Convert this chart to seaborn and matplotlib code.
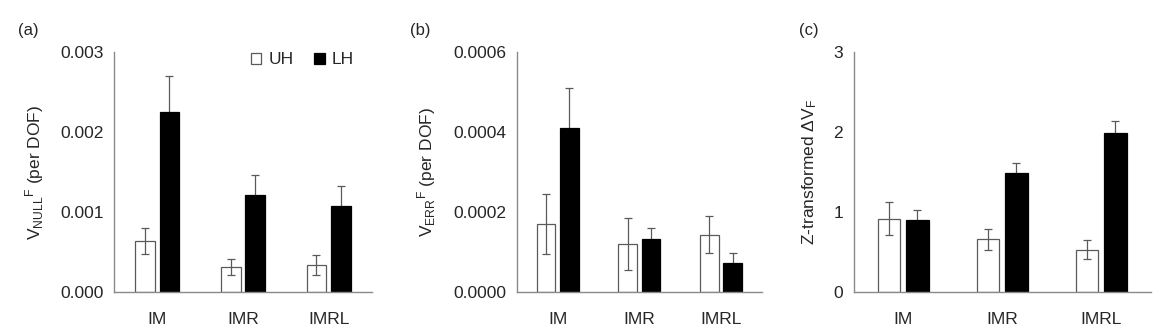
import matplotlib
matplotlib.use("Agg")
import matplotlib.pyplot as plt
from matplotlib.patches import Patch
import numpy as np
import pandas as pd
import seaborn as sns

# Conditions and hand groups
conditions = ["IM", "IMR", "IMRL"]
hands = ["UH", "LH"]

# (a) V_NULL^F per DOF: means and errors
null_uh = [0.00064, 0.00032, 0.00034]
null_lh = [0.00225, 0.00121, 0.00108]
null_uh_err = [0.00016, 0.00010, 0.00012]
null_lh_err = [0.00045, 0.00025, 0.00025]

# (b) V_ERR^F per DOF: means and errors
err_uh = [0.000171, 0.000120, 0.000143]
err_lh = [0.000409, 0.000134, 0.000073]
err_uh_err = [0.000075, 0.000065, 0.000046]
err_lh_err = [0.000100, 0.000027, 0.000025]

# (c) Z-transformed delta V_F: means and errors
z_uh = [0.92, 0.66, 0.53]
z_lh = [0.90, 1.49, 1.98]
z_uh_err = [0.20, 0.13, 0.12]
z_lh_err = [0.12, 0.12, 0.15]

# y-axis ticks per panel
null_ticks = [0.000, 0.001, 0.002, 0.003]
null_ticklabels = ["0.000", "0.001", "0.002", "0.003"]
err_ticks = [0.0, 0.0002, 0.0004, 0.0006]
err_ticklabels = ["0.0000", "0.0002", "0.0004", "0.0006"]
z_ticks = [0, 1, 2, 3]
z_ticklabels = ["0", "1", "2", "3"]

sns.set_style("white")
plt.rcParams["font.family"] = ["Liberation Sans", "DejaVu Sans"]
plt.rcParams["mathtext.default"] = "regular"

GRAY = "#5a5a5a"
SPINE = "#8a8a8a"
FILL = {"UH": "white", "LH": "black"}


def make_frame(uh, lh, uh_e, lh_e):
    rows = []
    for h, vals, errs in (("UH", uh, uh_e), ("LH", lh, lh_e)):
        for c, v, e in zip(conditions, vals, errs):
            rows.append({"condition": c, "hand": h, "value": v, "err": e})
    return pd.DataFrame(rows)


def draw_panel(ax, df, ticks, ticklabels, ylabel, label_x, panel_tag):
    sns.barplot(data=df, x="condition", y="value", hue="hand",
                order=conditions, hue_order=hands, palette=FILL,
                width=0.575, gap=0.2, errorbar=None, legend=False,
                edgecolor=GRAY, linewidth=0.9, ax=ax)
    for container, h in zip(ax.containers, hands):
        sub = df[df["hand"] == h].set_index("condition")
        for bar in container:
            xc = bar.get_x() + bar.get_width() / 2
            cond = conditions[int(round(xc))]
            v, e = sub.loc[cond, "value"], sub.loc[cond, "err"]
            ax.errorbar(xc, v, yerr=e, fmt="none", ecolor=GRAY,
                        elinewidth=0.9, capsize=2.6, capthick=0.9,
                        zorder=3 if h == "UH" else 0.5)
        if h == "LH":
            for bar in container:
                bar.set_edgecolor("black")
    ax.set_xlim(-0.5, 2.5)
    ax.set_ylim(ticks[0], ticks[-1])
    ax.set_yticks(ticks)
    ax.set_yticklabels(ticklabels)
    ax.set_xlabel("")
    ax.set_ylabel(ylabel, fontsize=12.5)
    ax.yaxis.set_label_coords(label_x, 0.5)
    ax.yaxis.label.set_va("center")
    ax.tick_params(axis="y", length=0, pad=7.5, labelsize=12.5)
    ax.tick_params(axis="x", length=0, pad=14, labelsize=12.5)
    for side in ("top", "right"):
        ax.spines[side].set_visible(False)
    for side in ("left", "bottom"):
        ax.spines[side].set_color(SPINE)
        ax.spines[side].set_linewidth(1.0)
    ax.set_facecolor("white")
    ax.text(panel_tag[1], 0.908, panel_tag[0], transform=ax.figure.transFigure,
            fontsize=12, ha="left", va="center")


fig = plt.figure(figsize=(11.67, 3.35), dpi=100)
fig.patch.set_facecolor("white")
ax_a = fig.add_axes([0.0979, 0.1275, 0.2206, 0.7182])
ax_b = fig.add_axes([0.4430, 0.1275, 0.2097, 0.7182])
ax_c = fig.add_axes([0.7315, 0.1275, 0.2545, 0.7182])

draw_panel(ax_a, make_frame(null_uh, null_lh, null_uh_err, null_lh_err),
           null_ticks, null_ticklabels,
           r"V$_{NULL}{}^{F}$ (per DOF)", -0.308, ("(a)", 0.015))
draw_panel(ax_b, make_frame(err_uh, err_lh, err_uh_err, err_lh_err),
           err_ticks, err_ticklabels,
           r"V$_{ERR}{}^{F}$ (per DOF)", -0.369, ("(b)", 0.351))
draw_panel(ax_c, make_frame(z_uh, z_lh, z_uh_err, z_lh_err),
           z_ticks, z_ticklabels,
           r"Z-transformed ΔV$_{F}$", -0.147, ("(c)", 0.685))

handles = [Patch(facecolor=FILL[h], edgecolor=GRAY if h == "UH" else "black",
                 linewidth=0.9, label=h) for h in hands]
ax_a.legend(handles=handles, ncol=2, frameon=False, fontsize=12.5,
            handlelength=0.6, handleheight=0.6, handletextpad=0.4,
            columnspacing=1.2, loc="center right", borderaxespad=0,
            borderpad=0, bbox_to_anchor=(0.303, 0.821),
            bbox_transform=fig.transFigure)

fig.savefig("out.png", dpi=100, facecolor="white")
